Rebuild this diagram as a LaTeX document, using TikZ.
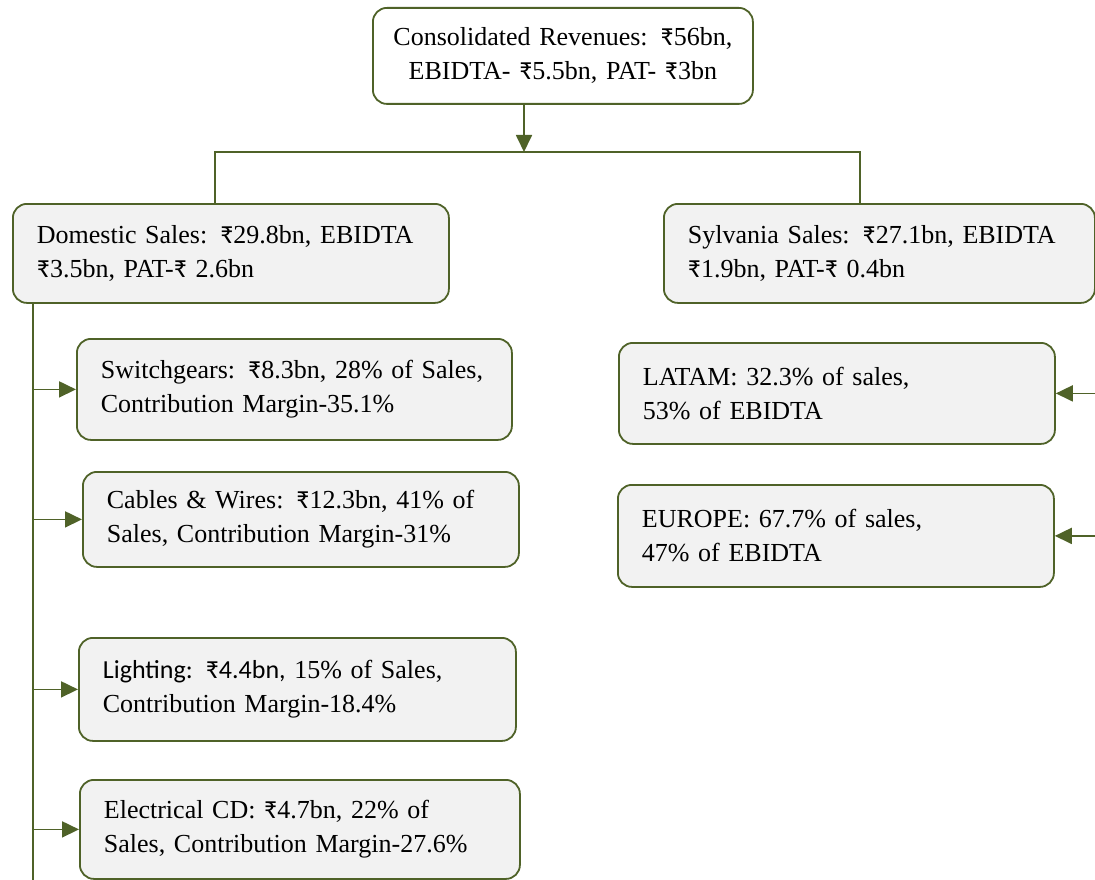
\documentclass[tikz,border=0pt]{standalone}
\usepackage{fontspec}
\setmainfont{Liberation Serif}
\newfontfamily\calibri{Carlito}
\newcommand\rs{{\calibri ₹}}
\usetikzlibrary{arrows.meta}
\definecolor{lnc}{RGB}{79,98,40}
\definecolor{boxfill}{RGB}{242,242,242}
\begin{document}
\begin{tikzpicture}[x=1pt,y=-1pt,
  box/.style={draw=lnc, line width=1.8pt, rounded corners=14pt, fill=boxfill,
    inner xsep=24pt, inner ysep=0pt, font=\fontsize{26}{34}\selectfont,
    align=left, anchor=north west},
  conn/.style={draw=lnc, line width=1.8pt},
  arr/.style={conn, -{Triangle[length=17pt,width=16pt]}}]
\useasboundingbox (0,0) rectangle (1095,880);

\node[box, fill=white, align=center, minimum width=380pt, minimum height=96pt, text width=340pt, inner xsep=20pt] (top) at (372,7)
  {Consolidated Revenues: \rs56bn,\\EBIDTA- \rs5.5bn, PAT- \rs3bn};

\node[box, minimum width=436pt, minimum height=99pt, text width=388pt] (dom) at (12,203)
  {Domestic Sales: \rs29.8bn, EBIDTA\\\rs3.5bn, PAT-\rs\ 2.6bn};
\node[box, minimum width=431pt, minimum height=99pt, text width=383pt] (syl) at (663,203)
  {Sylvania Sales: \rs27.1bn, EBIDTA\\\rs1.9bn, PAT-\rs\ 0.4bn};

\node[box, minimum width=435pt, minimum height=101pt, text width=387pt] (sw) at (76,338)
  {Switchgears: \rs8.3bn, 28\% of Sales,\\Contribution Margin-35.1\%};
\node[box, minimum width=436pt, minimum height=95pt, text width=388pt] (cw) at (82,471)
  {Cables \& Wires: \rs12.3bn, 41\% of\\Sales, Contribution Margin-31\%};
\node[box, minimum width=437pt, minimum height=103pt, text width=389pt] (li) at (78,637)
  {{\calibri Lighting: ₹4.4bn,} 15\% of Sales,\\Contribution Margin-18.4\%};
\node[box, minimum width=440pt, minimum height=99pt, text width=392pt] (el) at (79,779)
  {Electrical CD: \rs4.7bn, 22\% of\\Sales, Contribution Margin-27.6\%};

\node[box, minimum width=436pt, minimum height=101pt, text width=388pt] (la) at (618,342)
  {LATAM: 32.3\% of sales,\\53\% of EBIDTA};
\node[box, minimum width=436pt, minimum height=102pt, text width=388pt] (eu) at (617,484)
  {EUROPE: 67.7\% of sales,\\47\% of EBIDTA};

\coordinate (hub) at (524,152);
\coordinate (hl) at (215,152);
\coordinate (hr) at (860,152);
\coordinate (trunk) at (33,302);
\coordinate (trunkend) at (33,880);
\coordinate (rla) at (1095,0);

\draw[arr] (top.south -| hub) -- (hub);
\draw[conn] (dom.north -| hl) -- (hl) -- (hr) -- (syl.north -| hr);
\draw[conn] (trunk) -- (trunkend);
\draw[arr] (sw.west -| trunk) -- (sw.west);
\draw[arr] (cw.west -| trunk) -- (cw.west);
\draw[arr] (li.west -| trunk) -- (li.west);
\draw[arr] (el.west -| trunk) -- (el.west);
\draw[arr] (la.east -| rla) -- (la.east);
\draw[arr] (eu.east -| rla) -- (eu.east);
\end{tikzpicture}
\end{document}
